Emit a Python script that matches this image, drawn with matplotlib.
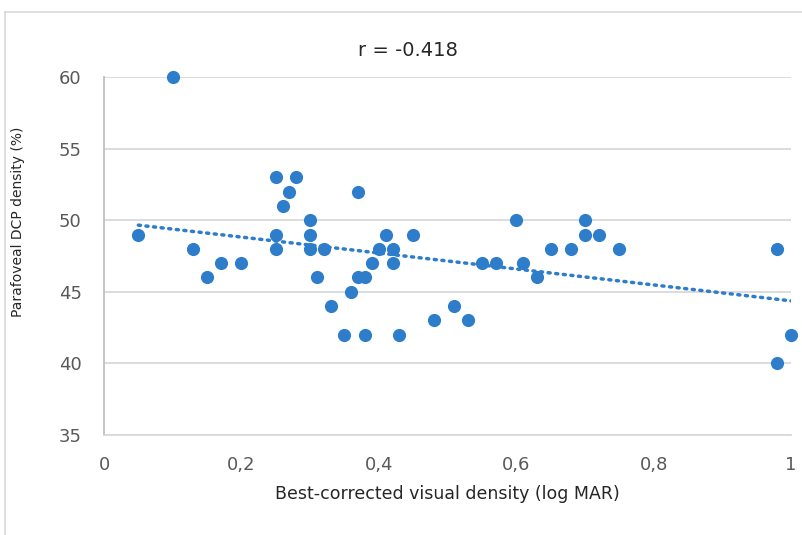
import numpy as np
from matplotlib import pyplot as plt
from matplotlib.lines import Line2D

# BCVA (logMAR) vs parafoveal DCP density
bcva = [0.05, 0.10, 0.13, 0.15, 0.17, 0.20, 0.25, 0.25, 0.25, 0.26,
        0.27, 0.28, 0.30, 0.30, 0.30, 0.31, 0.32, 0.33, 0.35, 0.36,
        0.37, 0.37, 0.38, 0.38, 0.39, 0.40, 0.41, 0.42, 0.42, 0.43,
        0.45, 0.48, 0.51, 0.53, 0.55, 0.57, 0.60, 0.61, 0.63, 0.65,
        0.68, 0.70, 0.70, 0.72, 0.75, 0.98, 0.98, 1.00]
dcp = [49, 60, 48, 46, 47, 47, 53, 49, 48, 51,
       52, 53, 50, 49, 48, 46, 48, 44, 42, 45,
       52, 46, 46, 42, 47, 48, 49, 48, 47, 42,
       49, 43, 44, 43, 47, 47, 50, 47, 46, 48,
       48, 50, 49, 49, 48, 48, 40, 42]
xticks = [0, 0.2, 0.4, 0.6, 0.8, 1]
xticklabels = ['0', '0,2', '0,4', '0,6', '0,8', '1']
yticks = [35, 40, 45, 50, 55, 60]

blue = '#2E7DCB'
grey_txt = '#595959'

fig = plt.figure(figsize=(8.02, 5.35), dpi=100)
ax = fig.add_axes([104/802, 1-435/535, 687/802, 358/535])

x = np.array(bcva)
y = np.array(dcp)
ax.scatter(x, y, s=90, color=blue, zorder=3, clip_on=False, linewidths=0)

# linear trendline
k, b = np.polyfit(x, y, 1)
xt = np.array([x.min(), x.max()])
ax.plot(xt, k*xt + b, color=blue, lw=2.5, ls=(0, (0.6, 1.6)),
        dash_capstyle='round', zorder=2)

ax.set_xlim(0, 1)
ax.set_ylim(35, 60)
ax.set_xticks(xticks)
ax.set_xticklabels(xticklabels)
ax.set_yticks(yticks)
ax.grid(axis='y', color='#D9D9D9', lw=1.3)
ax.set_axisbelow(True)
for s in ['top', 'right']:
    ax.spines[s].set_visible(False)
ax.spines['left'].set_color('#BFBFBF')
ax.spines['bottom'].set_color('#D9D9D9')
ax.spines['left'].set_linewidth(1.3)
ax.spines['bottom'].set_linewidth(1.3)
ax.tick_params(length=0, labelsize=13, labelcolor=grey_txt)
ax.tick_params(axis='x', pad=15)
ax.tick_params(axis='y', pad=16)

ax.set_xlabel('Best-corrected visual density (log MAR)', fontsize=12.5,
              color='#262626', labelpad=8)
fig.text(18/802, 1-222/535, 'Parafoveal DCP density (%)', rotation=90,
         fontsize=10, color='#262626', ha='center', va='center')
fig.text(408/802, 1-50/535, 'r = -0.418', fontsize=14, color='#262626',
         ha='center', va='center')

# chart area border
fig.add_artist(Line2D([4.5/802, 4.5/802], [0, 1-12/535], color='#D9D9D9', lw=1.2))
fig.add_artist(Line2D([4.5/802, 1], [1-12/535, 1-12/535], color='#D9D9D9', lw=1.2))

fig.savefig('out.png', dpi=100)
